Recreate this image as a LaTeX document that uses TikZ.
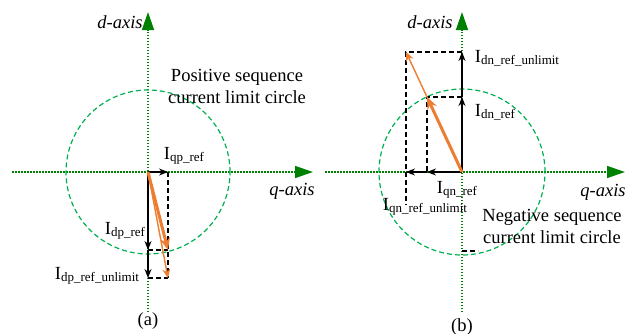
\documentclass[tikz,border=0pt]{standalone}
\usepackage{fontspec}
\setmainfont{Liberation Serif}
\usepackage{xcolor}
\usepackage{tikz}
\usetikzlibrary{arrows.meta}
\definecolor{axisgreen}{RGB}{0,128,0}
\definecolor{circgreen}{RGB}{0,176,80}
\definecolor{vecorange}{RGB}{237,125,49}
\newcommand{\cur}[1]{I\lower2pt\hbox{\fontsize{13}{15}\selectfont #1}}

\begin{document}
\begin{tikzpicture}[x=1pt, y=-1pt,
  every node/.style = {inner sep=0pt, font=\fontsize{18.5}{22}\selectfont},
  axis/.style     = {axisgreen, line width=1.4pt, dash pattern=on 1.5pt off 1.5pt, -{Triangle[length=18pt, width=12pt]}},
  axislab/.style  = {font=\fontsize{18.5}{22}\selectfont\itshape},
  limit/.style    = {circgreen, line width=1.2pt, dash pattern=on 5pt off 3pt},
  comp/.style     = {-{Stealth[length=9pt, width=7pt]}, line width=1.3pt, black},
  proj/.style     = {black, line width=1.2pt, dash pattern=on 5pt off 3pt},
  vec/.style      = {-{Stealth[length=12pt, width=10pt]}, line width=3pt, vecorange},
  vecu/.style     = {-{Stealth[length=9pt, width=8pt]}, line width=1.4pt, vecorange},
]
\useasboundingbox (0,0) rectangle (637,333);
% Panel (a): positive sequence
\coordinate (oa) at (148,172);
\coordinate (qaL) at (12,172);
\coordinate (qaR) at (313,172);
\coordinate (daB) at (148,312);
\coordinate (daT) at (148,12);
\coordinate (qpe) at (168,172);
\coordinate (dpe) at (148,250);
\coordinate (dpu) at (148,278);
\coordinate (pa1) at (168,250);
\coordinate (pa2) at (168,278);
\draw[axis] (qaL) -- (qaR);
\draw[axis] (daB) -- (daT);
\draw[limit] (oa) circle (82pt);
\draw[proj] (qpe) -- (pa2);
\draw[proj] (dpe) -- (pa1);
\draw[proj] (dpu) -- (pa2);
\draw[comp] (oa) -- (qpe);
\draw[comp] (oa) -- (dpe);
\draw[comp] (dpe) -- (dpu);
\draw[vecu] (oa) -- (pa2);
\draw[vec] (oa) -- (pa1);
\node[axislab] (dlabA) at (120,22) {d-axis};
\node[axislab] (qlabA) at (292,191) {q-axis};
\node[align=center] (circA) at (237,86) {Positive sequence\\current limit circle};
\node (iqp) at (184,156) {\cur{qp\_ref}};
\node (idp) at (125,231) {\cur{dp\_ref}};
\node (idpu) at (97,276) {\cur{dp\_ref\_unlimit}};
\node (capA) at (148,321) {(a)};
% Panel (b): negative sequence
\coordinate (ob) at (462,172);
\coordinate (qbL) at (325,172);
\coordinate (qbR) at (625,172);
\coordinate (dbB) at (462,312);
\coordinate (dbT) at (462,12);
\coordinate (dne) at (462,97);
\coordinate (dnu) at (462,52);
\coordinate (qne) at (427,172);
\coordinate (qnu) at (406,172);
\coordinate (pb1) at (427,97);
\coordinate (pb2) at (406,52);
\coordinate (pb3) at (406,205);
\coordinate (bb1) at (462,251);
\coordinate (bb2) at (478,251);
\draw[axis] (qbL) -- (qbR);
\draw[axis] (dbB) -- (dbT);
\draw[limit] (ob) circle (83pt);
\draw[proj] (dnu) -- (pb2) -- (pb3);
\draw[proj] (dne) -- (pb1) -- (qne);
\draw[proj] (bb1) -- (bb2);
\draw[comp] (ob) -- (dne);
\draw[comp] (dne) -- (dnu);
\draw[comp] (ob) -- (qne);
\draw[comp] (qne) -- (qnu);
\draw[vecu] (ob) -- (pb2);
\draw[vec] (ob) -- (pb1);
\node[axislab] (dlabB) at (430,22) {d-axis};
\node[axislab] (qlabB) at (603,192) {q-axis};
\node[align=center] (circB) at (552,226) {Negative sequence\\current limit circle};
\node (idnu) at (517,58) {\cur{dn\_ref\_unlimit}};
\node (idn) at (495,112) {\cur{dn\_ref}};
\node (iqn) at (457,190) {\cur{qn\_ref}};
\node (iqnu) at (425,207) {\cur{qn\_ref\_unlimit}};
\node (capB) at (462,327) {(b)};
\end{tikzpicture}
\end{document}
